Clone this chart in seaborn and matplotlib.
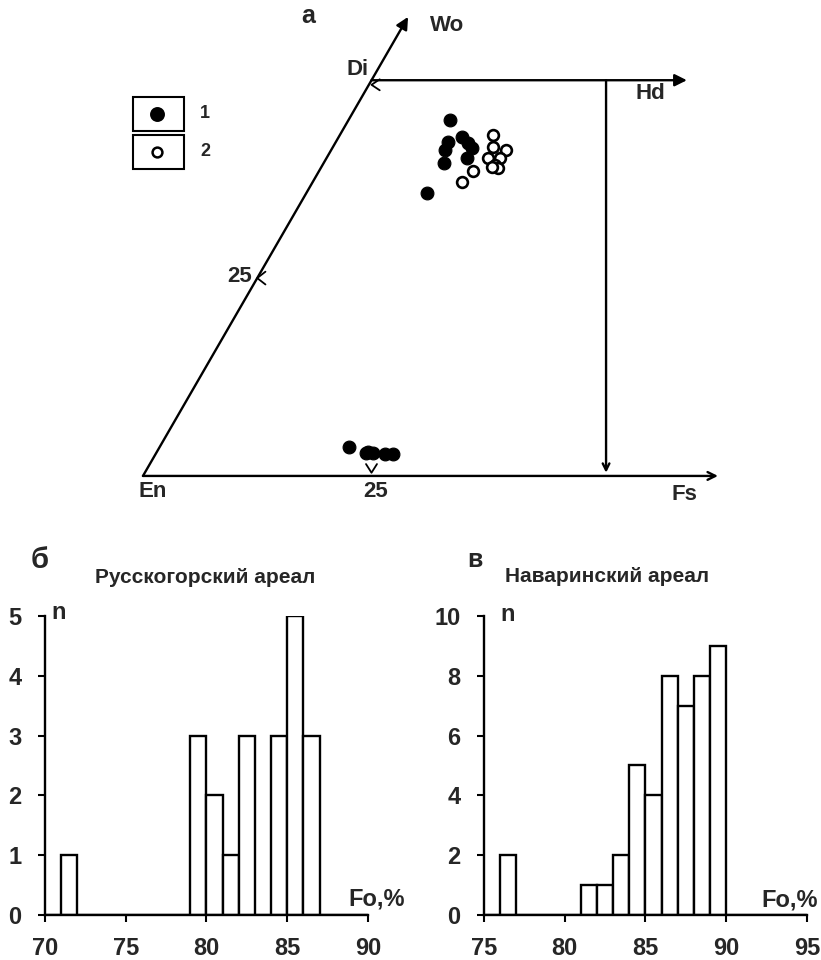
"""
Pyroxene quadrilateral (Wo-En-Fs) + olivine Fo histograms.
"""
import numpy as np
import pandas as pd
import matplotlib
matplotlib.use("Agg")
import matplotlib.pyplot as plt
import seaborn as sns

# ---------------------------------------------------------------
# data
# ---------------------------------------------------------------
# group 1 (solid) : Wo, Fs  (mol %)
wo_1 = [45.0, 42.2, 42.8, 42.1, 41.4, 41.2, 40.2, 39.5, 35.8,
        3.7, 3.0, 2.9, 2.9, 2.8, 2.8]
fs_1 = [11.1, 12.3, 13.5, 14.5, 15.3, 12.4, 15.3, 13.2, 13.2,
        20.7, 23.1, 22.9, 23.7, 25.1, 25.9]
# group 2 (open)
wo_2 = [43.1, 41.6, 41.2, 40.2, 40.2, 39.3, 38.9, 39.0, 38.5, 37.1]
fs_2 = [16.7, 17.5, 19.1, 17.6, 19.0, 18.9, 19.4, 18.7, 16.8, 16.4]

# histogram б - Русскогорский ареал (bin centres, counts)
fo_rus = [71.5, 79.5, 80.5, 81.5, 82.5, 84.5, 85.5, 86.5]
n_rus = [1, 3, 2, 1, 3, 3, 5, 3]
# histogram в - Наваринский ареал
fo_nav = [76.5, 81.5, 82.5, 83.5, 84.5, 85.5, 86.5, 87.5, 88.5, 89.5]
n_nav = [2, 1, 1, 2, 5, 4, 8, 7, 8, 9]

ticks_rus = [70, 75, 80, 85, 90]
ticks_nav = [75, 80, 85, 90, 95]

SQ3 = np.sqrt(3) / 2


def tern(wo, fs):
    wo = np.asarray(wo, dtype=float)
    fs = np.asarray(fs, dtype=float)
    return fs + wo / 2, wo * SQ3


sns.set_style("white")
plt.rcParams["font.family"] = ["Liberation Sans", "DejaVu Sans"]

BLK = "black"
fig = plt.figure(figsize=(8.21, 9.6), dpi=100)

# ---------------------------------------------------------------
# a. quadrilateral
# ---------------------------------------------------------------
ax = fig.add_axes([0.1218, 0.4792, 0.8039, 0.5208])
ax.set_xlim(-4.70, 67.5)
ax.set_ylim(-2.63, 52.08)
ax.axis("off")

lw = 1.7
# En -> Wo
x0, y0 = tern(0, 0)
x1, y1 = tern(58, 0)
ax.annotate("", xy=(x1, y1), xytext=(x0, y0),
            arrowprops=dict(arrowstyle="-|>", color=BLK, lw=lw,
                            mutation_scale=18, shrinkA=0, shrinkB=0))
# Di -> Hd
xd, yd = tern(50, 0)
ax.annotate("", xy=(xd + 34.5, yd), xytext=(xd, yd),
            arrowprops=dict(arrowstyle="-|>", color=BLK, lw=lw,
                            mutation_scale=18, shrinkA=0, shrinkB=0))
# En -> Fs
ax.annotate("", xy=(62.9, 0), xytext=(0, 0),
            arrowprops=dict(arrowstyle="->", color=BLK, lw=lw,
                            mutation_scale=14, shrinkA=0, shrinkB=0))
# vertical line down to En-Fs join
ax.annotate("", xy=(50.66, 0.35), xytext=(50.66, yd),
            arrowprops=dict(arrowstyle="->", color=BLK, lw=lw,
                            mutation_scale=12, shrinkA=0, shrinkB=0))

# small chevron ticks
def chevron(x, y, dx, dy, **kw):
    ax.plot([x + dx, x, x + dx], [y + dy, y, y - dy], color=BLK, lw=1.3, **kw)

chevron(xd, yd - 0.5, 0.9, 0.6)
xl, yl = tern(25, 0)
chevron(xl, yl, 0.9, 0.7)
ax.plot([24.4, 25.0, 25.6], [1.3, 0.35, 1.3], color=BLK, lw=1.3)

# points
d1 = pd.DataFrame(dict(zip(["x", "y"], tern(wo_1, fs_1))))
d2 = pd.DataFrame(dict(zip(["x", "y"], tern(wo_2, fs_2))))
sns.scatterplot(data=d1, x="x", y="y", ax=ax, s=85, color=BLK,
                edgecolor=BLK, linewidth=0.8, zorder=3)
sns.scatterplot(data=d2, x="x", y="y", ax=ax, s=60, color="white",
                edgecolor=BLK, linewidth=1.9, zorder=3)

tkw = dict(fontsize=16, fontweight="bold", ha="center", va="center")
ax.text(18.05, 50.3, "а", fontsize=18, fontweight="bold", ha="center", va="center")
ax.text(33.3, 49.3, "Wo", **tkw)
ax.text(23.5, 44.5, "Di", **tkw)
ax.text(55.5, 41.9, "Hd", **tkw)
ax.text(1.1, -1.75, "En", **tkw)
ax.text(59.2, -2.0, "Fs", **tkw)
ax.text(10.6, 21.8, "25", **tkw)
ax.text(25.4, -1.75, "25", **tkw)

# legend
for yb, face, lab in [(0.738, BLK, "1"), (0.662, "white", "2")]:
    ax.add_patch(plt.Rectangle((0.05, yb), 0.077, 0.067, transform=ax.transAxes,
                               fill=False, edgecolor=BLK, lw=1.5))
    ax.scatter([0.0864], [yb + 0.034], transform=ax.transAxes, s=80 if face == BLK else 50,
               facecolor=face, edgecolor=BLK, linewidth=1.8)
    ax.text(0.159, yb + 0.035, lab, transform=ax.transAxes, fontsize=13,
            fontweight="bold", ha="center", va="center")

# ---------------------------------------------------------------
# б, в. histograms
# ---------------------------------------------------------------
def hist_panel(rect, centres, counts, xticks, ylim, yticks, n_xy, fo_xy):
    axh = fig.add_axes(rect)
    df = pd.DataFrame({"fo": centres, "n": counts})
    sns.histplot(data=df, x="fo", weights="n", binwidth=1,
                 binrange=(xticks[0], xticks[-1]), ax=axh,
                 color="white", edgecolor=BLK, linewidth=1.7, alpha=1)
    axh.set_xlim(xticks[0], xticks[-1])
    axh.set_ylim(*ylim)
    axh.set_xticks(xticks)
    axh.set_yticks(yticks)
    axh.set_xlabel("")
    axh.set_ylabel("")
    for s in ["top", "right"]:
        axh.spines[s].set_visible(False)
    for s in ["left", "bottom"]:
        axh.spines[s].set_color(BLK)
        axh.spines[s].set_linewidth(1.7)
    axh.tick_params(axis="x", direction="out", length=5, width=1.5,
                    pad=11, labelsize=17, color=BLK, bottom=True)
    axh.tick_params(axis="y", direction="out", length=5, width=1.5,
                    pad=12, labelsize=17, color=BLK, left=True)
    for t in axh.get_xticklabels() + axh.get_yticklabels():
        t.set_fontweight("bold")
    axh.text(*n_xy, "n", fontsize=17, fontweight="bold", ha="center", va="center")
    axh.text(*fo_xy, "Fo,%", fontsize=17, fontweight="bold", ha="center",
             va="center", clip_on=False)
    return axh


hist_panel([0.0548, 0.0469, 0.3934, 0.3115], fo_rus, n_rus,
           ticks_rus, (0, 5), [0, 1, 2, 3, 4, 5], (70.85, 5.05), (90.55, 0.27))
hist_panel([0.5895, 0.0469, 0.3934, 0.3115], fo_nav, n_nav,
           ticks_nav, (0, 10), [0, 2, 4, 6, 8, 10], (76.45, 10.05), (93.95, 0.5))

fig.text(0.0487, 0.4167, "б", fontsize=21, fontweight="bold", ha="center", va="center")
fig.text(0.2497, 0.398, "Русскогорский ареал", fontsize=15, fontweight="bold",
         ha="center", va="center")
fig.text(0.5786, 0.4167, "в", fontsize=18, fontweight="bold", ha="center", va="center")
fig.text(0.739, 0.399, "Наваринский ареал", fontsize=15, fontweight="bold",
         ha="center", va="center")

fig.savefig("out.png", dpi=100)
